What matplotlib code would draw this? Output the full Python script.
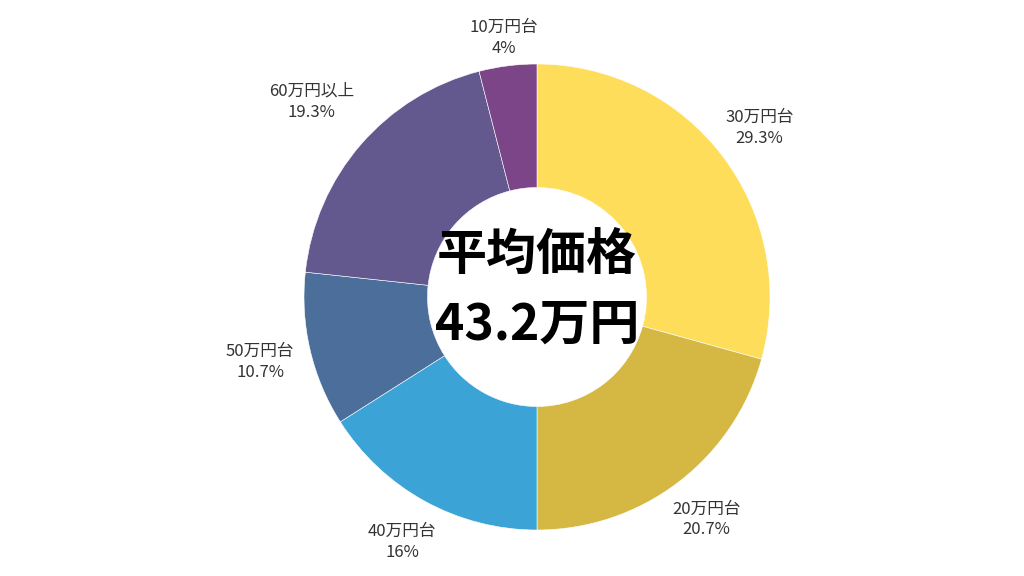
import matplotlib
matplotlib.use('Agg')
import numpy as np
import matplotlib.pyplot as plt

plt.rcParams['font.family'] = ['Noto Sans CJK JP', 'DejaVu Sans']

categories = ['30万円台', '20万円台', '40万円台', '50万円台', '60万円以上', '10万円台']
shares = [29.3, 20.7, 16, 10.7, 19.3, 4]
share_labels = ['29.3%', '20.7%', '16%', '10.7%', '19.3%', '4%']
colors = ['#FEDD5A', '#D5B843', '#3BA3D6', '#4B6E9A', '#63598F', '#7B4588']
label_radius = [1.2, 1.2, 1.2, 1.22, 1.28, 1.12]
center_title = '平均価格'
center_value = '43.2万円'

fig = plt.figure(figsize=(10.24, 5.76), dpi=100)
W, H = 1024, 576
cx, cy, R = 537, 297, 233
span = 1.3
size = 2 * span * R
ax = fig.add_axes([(cx - size / 2) / W, (H - cy - size / 2) / H, size / W, size / H])

labels = [c + '\n' + s for c, s in zip(categories, share_labels)]
wedges, texts = ax.pie(shares, colors=colors, startangle=90, counterclock=False,
                       labels=labels, labeldistance=1.2,
                       wedgeprops=dict(width=0.53, edgecolor='white', linewidth=0.4),
                       textprops=dict(fontsize=12, color='#333333', ha='center', va='center',
                                      linespacing=1.3))
# move each label along its wedge's middle angle
for w, t, r in zip(wedges, texts, label_radius):
    ang = np.deg2rad((w.theta1 + w.theta2) / 2)
    t.set_position((r * np.cos(ang), r * np.sin(ang)))
    t.set_horizontalalignment('center')

ax.text(0, 0.18, center_title, ha='center', va='center', fontsize=36, fontweight='bold', color='black')
ax.text(0, -0.12, center_value, ha='center', va='center', fontsize=36, fontweight='bold', color='black')

ax.set_xlim(-span, span)
ax.set_ylim(-span, span)
ax.set_aspect('equal')
ax.axis('off')

fig.savefig('out.png', dpi=100)
